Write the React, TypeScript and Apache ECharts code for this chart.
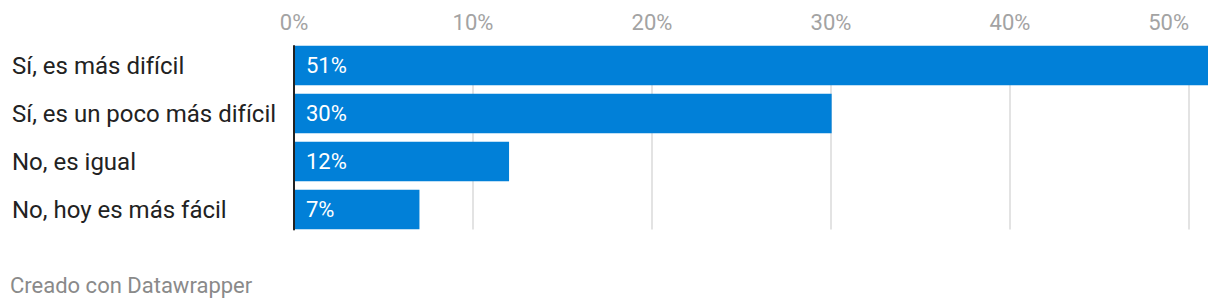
import React, { useEffect, useRef } from "react";
import * as echarts from "echarts";

const categories = [
  "Sí, es más difícil",
  "Sí, es un poco más difícil",
  "No, es igual",
  "No, hoy es más fácil",
];
const values = [51, 30, 12, 7];
const xTicks = [0, 10, 20, 30, 40, 50];
const footer = "Creado con Datawrapper";

export default function App() {
  const ref = useRef<HTMLDivElement>(null);
  useEffect(() => {
    if (!ref.current) return;
    const chart = echarts.init(ref.current, null, { renderer: "svg" });
    const font = "Roboto, 'Noto Sans', sans-serif";
    chart.setOption({
      animation: false,
      textStyle: { fontFamily: font },
      grid: [
        { left: 294, right: 12, top: 41.5, height: 192 },
        { left: 294, right: 31, top: 46, height: 183.5 },
      ],
      xAxis: [
        {
          gridIndex: 0,
          type: "value",
          min: 0,
          max: 51,
          interval: 10,
          show: false,
        },
        {
          gridIndex: 1,
          type: "value",
          position: "top",
          min: 0,
          max: 50,
          interval: 10,
          axisLine: { show: false },
          axisTick: { show: false },
          splitLine: { show: true, lineStyle: { color: "#e3e3e3", width: 2 } },
          axisLabel: {
            color: "#a3a3a3",
            fontSize: 22,
            fontFamily: font,
            margin: 13,
            alignMaxLabel: "right",
            formatter: (v: number) => (xTicks.includes(v) ? v + "%" : ""),
          },
        },
      ],
      yAxis: [
        {
          gridIndex: 0,
          type: "category",
          inverse: true,
          data: categories,
          axisLine: { show: false },
          axisTick: { show: false },
          splitLine: { show: false },
          axisLabel: {
            color: "#222",
            fontSize: 24,
            fontFamily: font,
            align: "left",
            margin: 282,
          },
        },
        {
          gridIndex: 1,
          type: "category",
          inverse: true,
          data: categories,
          axisLine: { show: true, lineStyle: { color: "#222", width: 2 } },
          axisTick: { show: false },
          axisLabel: { show: false },
          splitLine: { show: false },
          z: 10,
        },
      ],
      series: [
        {
          type: "bar",
          xAxisIndex: 0,
          yAxisIndex: 0,
          data: values,
          barWidth: 39.5,
          itemStyle: { color: "#0180d8" },
          z: 5,
          label: {
            show: true,
            position: "insideLeft",
            distance: 12,
            color: "#fff",
            fontSize: 22,
            fontFamily: font,
            formatter: (p: any) => p.value + "%",
          },
        },
      ],
      graphic: [
        {
          type: "text",
          left: 10,
          top: 274,
          style: {
            text: footer,
            fill: "#8a8a8a",
            fontSize: 22,
            fontFamily: font,
          },
        },
      ],
    });
    return () => chart.dispose();
  }, []);
  return (
    <div
      ref={ref}
      style={{ position: "absolute", left: 0, top: 0, width: 1220, height: 306 }}
    />
  );
}
